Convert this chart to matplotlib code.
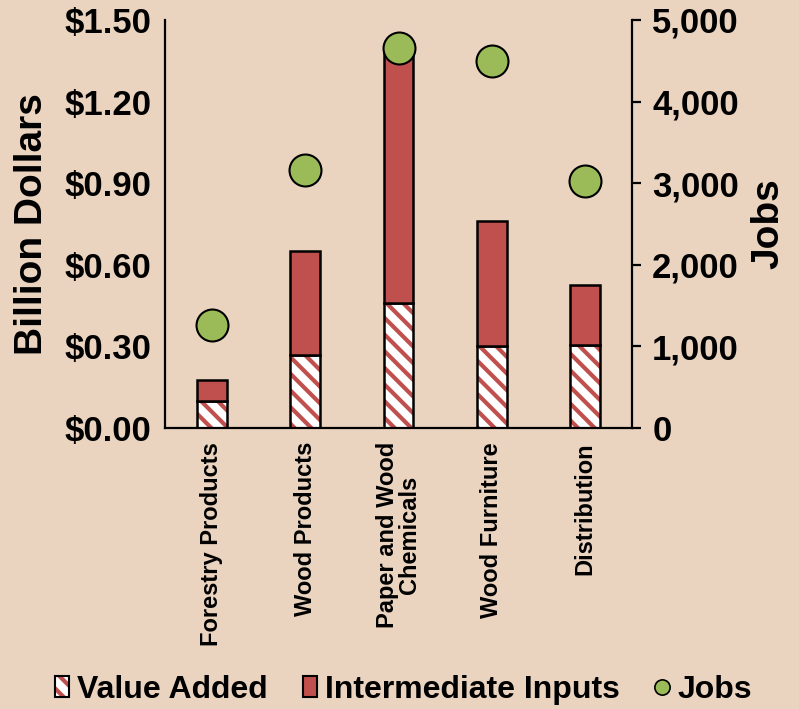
import matplotlib
matplotlib.use("Agg")
import matplotlib.pyplot as plt
import matplotlib.patches as patches
from matplotlib.lines import Line2D
from matplotlib.ticker import FuncFormatter

# data (billion dollars / jobs)
categories = ["Forestry Products", "Wood Products", "Paper and Wood\nChemicals",
              "Wood Furniture", "Distribution"]
value_added = [0.10, 0.27, 0.46, 0.30, 0.305]
intermediate = [0.075, 0.38, 0.94, 0.46, 0.22]
jobs = [1260, 3160, 4660, 4500, 3030]

RED = "#C0504D"
GREEN = "#9BBB59"
BG = "#EAD4C0"

plt.rcParams["font.family"] = ["Liberation Sans", "DejaVu Sans"]
plt.rcParams["font.weight"] = "bold"
plt.rcParams["hatch.linewidth"] = 3.0

fig = plt.figure(figsize=(7.99, 7.09), dpi=100, facecolor=BG)
ax = fig.add_axes([0.2065, 0.3963, 0.5845, 0.5755])
ax.set_facecolor(BG)
ax.patch.set_alpha(0)

x = list(range(len(categories)))
w = 0.32

# value added: white with red diagonal stripes, black outline on top
ax.bar(x, value_added, w, color="white", edgecolor=RED, hatch="\\\\", linewidth=0, zorder=2)
ax.bar(x, value_added, w, fill=False, edgecolor="black", linewidth=1.8, zorder=3)
ax.bar(x, intermediate, w, bottom=value_added, color=RED, edgecolor="black",
       linewidth=1.8, zorder=3)

ax.set_xlim(-0.5, len(categories) - 0.5)
ax.set_ylim(0, 1.5)
ax.set_yticks([0, 0.3, 0.6, 0.9, 1.2, 1.5])
ax.yaxis.set_major_formatter(FuncFormatter(lambda v, p: f"${v:.2f}"))
ax.set_xticks(x)
ax.set_xticklabels(categories, rotation=90, fontsize=17, fontweight="bold",
                   linespacing=0.95)
ax.tick_params(axis="x", length=0, pad=10)
ax.tick_params(axis="y", length=0, pad=10, labelsize=25)
ax.set_ylabel("Billion Dollars", fontsize=28, fontweight="bold", labelpad=10)

for s in ["top", "right"]:
    ax.spines[s].set_visible(False)
for s in ["left", "bottom"]:
    ax.spines[s].set_linewidth(1.6)

ax2 = ax.twinx()
ax2.plot(x, jobs, linestyle="none", marker="o", markersize=23,
         markerfacecolor=GREEN, markeredgecolor="black", markeredgewidth=1.5,
         zorder=5, clip_on=False)
ax2.set_ylim(0, 5000)
ax2.set_yticks(range(0, 5001, 1000))
ax2.yaxis.set_major_formatter(FuncFormatter(lambda v, p: f"{int(v):,}"))
ax2.tick_params(axis="y", length=6.5, width=1.6, pad=8, labelsize=25)
ax2.set_ylabel("Jobs", fontsize=28, fontweight="bold", rotation=90, labelpad=8)
for s in ["top", "left", "bottom"]:
    ax2.spines[s].set_visible(False)
ax2.spines["right"].set_linewidth(1.6)

# legend
h_va = (patches.Patch(facecolor="white", edgecolor=RED, hatch="\\\\", linewidth=0),
        patches.Patch(fill=False, edgecolor="black", linewidth=1.5))
h_ii = patches.Patch(facecolor=RED, edgecolor="black", linewidth=1.5)
h_jobs = Line2D([], [], linestyle="none", marker="o", markersize=11,
                markerfacecolor=GREEN, markeredgecolor="black", markeredgewidth=1.2)
fig.legend([h_va, h_ii, h_jobs], ["Value Added", "Intermediate Inputs", "Jobs"],
           loc="center", bbox_to_anchor=(0.505, 0.027), ncol=3, frameon=False,
           handlelength=0.45, handleheight=0.65, handletextpad=0.25,
           columnspacing=1.1, prop={"weight": "bold", "size": 23})

fig.savefig("out.png", dpi=100, facecolor=BG)
